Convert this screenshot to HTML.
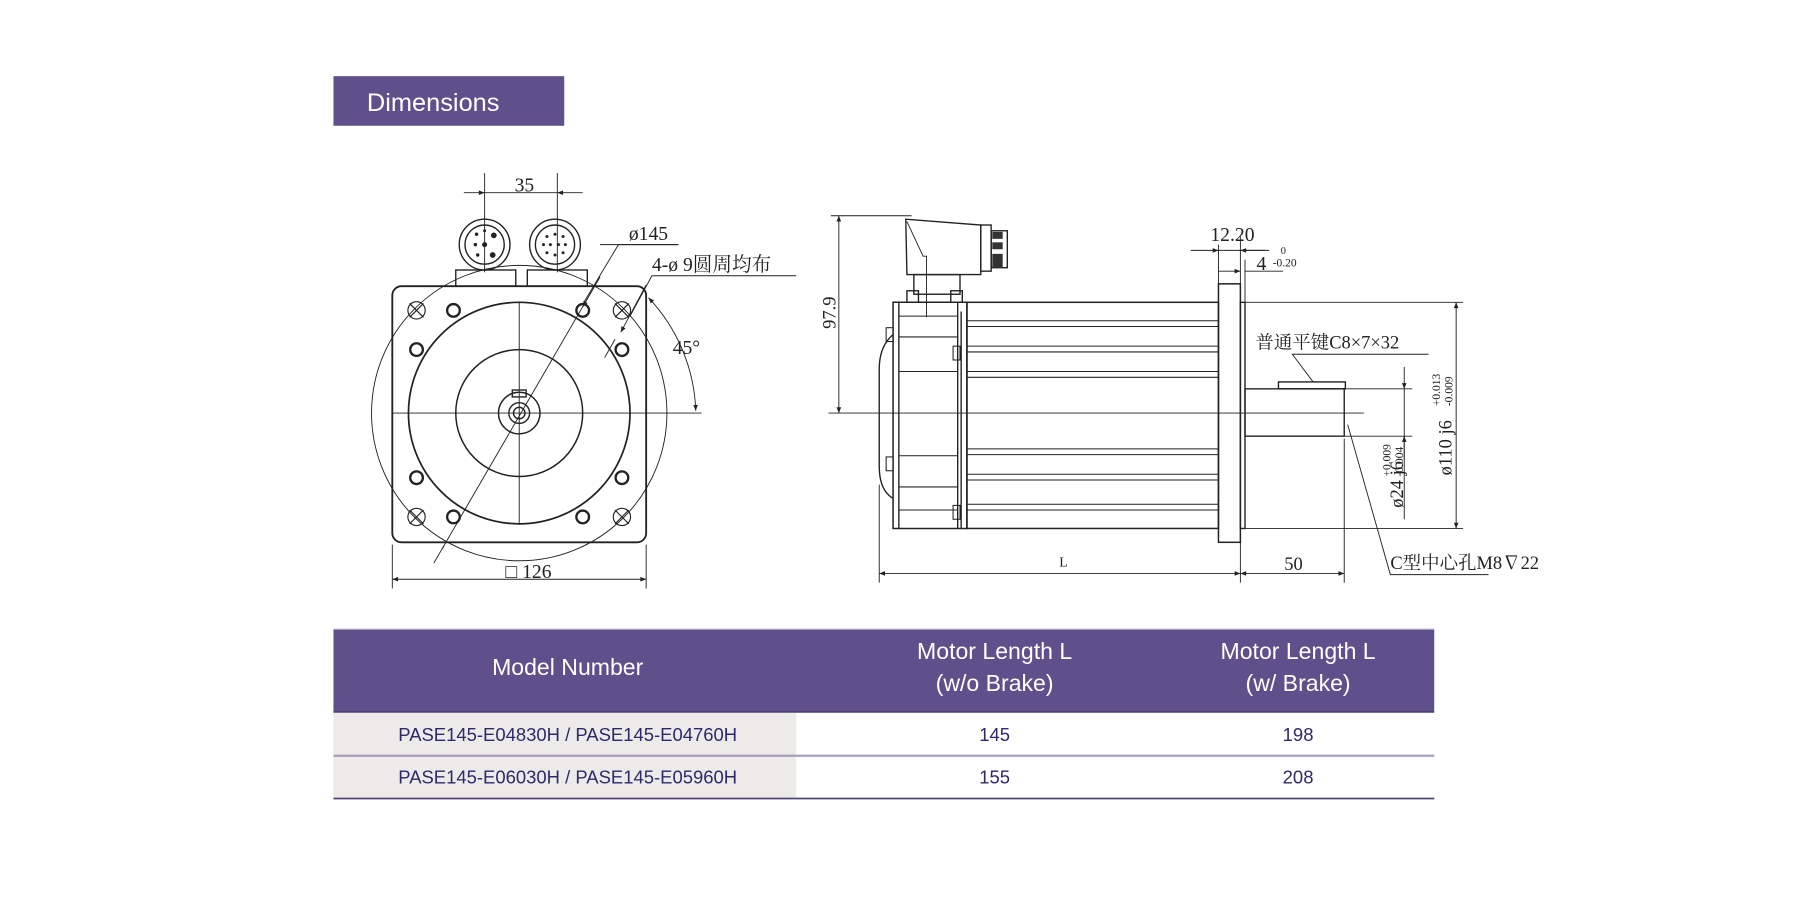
<!DOCTYPE html>
<html><head><meta charset="utf-8"><style>
html,body{margin:0;padding:0;background:#fff;}
svg{display:block;}
text{font-family:"Liberation Serif","Noto Serif CJK SC",serif;fill:#222;}
.s{font-family:"Liberation Sans",sans-serif;}
</style></head><body>
<svg width="1800" height="912" viewBox="0 0 1560 790.4" preserveAspectRatio="none" xmlns="http://www.w3.org/2000/svg">
<defs>
<marker id="a" viewBox="0 0 10 10" refX="10" refY="5" markerWidth="9" markerHeight="5" orient="auto-start-reverse" markerUnits="userSpaceOnUse"><path d="M0,1 L10,5 L0,9z" fill="#222"/></marker>
</defs>
<!-- header -->
<rect x="289" y="66" width="200" height="43" fill="#5f4f8a"/>
<text x="318" y="96" class="s" font-size="22" style="fill:#fff">Dimensions</text>

<g stroke="#222" fill="none" stroke-width="1.2">
<!-- FRONT VIEW -->
<rect x="340" y="248" width="220" height="222" rx="8" stroke-width="1.6"/>
<circle cx="450" cy="358" r="128" stroke-width="0.8"/>
<circle cx="450" cy="358" r="96" stroke-width="1.5"/>
<circle cx="450" cy="358" r="55" stroke-width="1.3"/>
<circle cx="450" cy="358" r="18" stroke-width="1.3"/>
<circle cx="450" cy="358" r="9"/>
<circle cx="450" cy="358" r="5"/>
<rect x="444" y="338" width="12" height="6"/>
<line x1="340" y1="358" x2="608" y2="358" stroke-width="0.8"/>
<line x1="450" y1="262" x2="450" y2="454" stroke-width="0.8"/>
<!-- X holes -->
<g stroke-width="1">
<circle cx="361" cy="269" r="7.5"/><path d="M355,263l12,12M367,263l-12,12"/>
<circle cx="539" cy="269" r="7.5"/><path d="M533,263l12,12M545,263l-12,12"/>
<circle cx="361" cy="448" r="7.5"/><path d="M355,442l12,12M367,442l-12,12"/>
<circle cx="539" cy="448" r="7.5"/><path d="M533,442l12,12M545,442l-12,12"/>
</g>
<g stroke-width="2">
<circle cx="393" cy="269" r="5.5"/><circle cx="505" cy="269" r="5.5"/>
<circle cx="361" cy="303" r="5.5"/><circle cx="539" cy="303" r="5.5"/>
<circle cx="361" cy="414" r="5.5"/><circle cx="539" cy="414" r="5.5"/>
<circle cx="393" cy="448" r="5.5"/><circle cx="505" cy="448" r="5.5"/>
</g>
<!-- connectors -->
<circle cx="420" cy="212" r="22"/><circle cx="420" cy="212" r="17"/>
<circle cx="481" cy="212" r="22"/><circle cx="481" cy="212" r="17"/>
<rect x="395" y="234" width="52" height="14"/>
<rect x="457" y="234" width="52" height="14"/>
<g fill="#222" stroke="none">
<circle cx="413" cy="203" r="1.5"/><circle cx="420" cy="212" r="2.2"/><circle cx="412" cy="212" r="1.5"/><circle cx="428" cy="204" r="2.5"/><circle cx="427" cy="221" r="2.5"/><circle cx="414" cy="221" r="1.5"/><circle cx="420" cy="200" r="1.3"/>
<circle cx="474" cy="205" r="1.3"/><circle cx="481" cy="203" r="1.3"/><circle cx="488" cy="205" r="1.3"/><circle cx="471" cy="212" r="1.3"/><circle cx="477" cy="212" r="1.3"/><circle cx="484" cy="212" r="1.3"/><circle cx="490" cy="212" r="1.3"/><circle cx="474" cy="219" r="1.3"/><circle cx="481" cy="221" r="1.3"/><circle cx="488" cy="219" r="1.3"/>
</g>
<!-- dim 35 -->
<line x1="420" y1="150" x2="420" y2="236" stroke-width="0.8"/>
<line x1="483" y1="150" x2="483" y2="236" stroke-width="0.8"/>
<line x1="402" y1="167" x2="420" y2="167" stroke-width="0.8" marker-end="url(#a)"/>
<line x1="505" y1="167" x2="483" y2="167" stroke-width="0.8" marker-end="url(#a)"/>
<line x1="420" y1="167" x2="483" y2="167" stroke-width="0.8"/>
<!-- diagonal ø145 -->
<line x1="376" y1="488" x2="520" y2="240" stroke-width="0.8"/>
<line x1="520" y1="240" x2="505" y2="266" stroke-width="0.8" marker-end="url(#a)"/>
<line x1="383" y1="476" x2="385" y2="473" stroke-width="0.8"/>
<line x1="520" y1="240" x2="588" y2="240" stroke-width="0.8" transform="translate(0,-28) "/>
<line x1="520" y1="212" x2="520" y2="240" stroke-width="0" />
<polyline points="588,212 536,212 506,262" stroke-width="0.8"/>
<!-- 4-ø9 leader -->
<polyline points="690,239 565,239 546,274" stroke-width="0.8"/>
<line x1="560" y1="247" x2="538" y2="288" stroke-width="0.8" marker-end="url(#a)"/>
<line x1="524" y1="310" x2="533" y2="294" stroke-width="0.8"/>
<!-- 45 arc -->
<path d="M562,258 A 150 150 0 0 1 603,356" stroke-width="0.8" marker-start="url(#a)" marker-end="url(#a)"/>
<!-- dim 126 -->
<line x1="340" y1="472" x2="340" y2="510" stroke-width="0.8"/>
<line x1="560" y1="472" x2="560" y2="510" stroke-width="0.8"/>
<line x1="340" y1="502" x2="560" y2="502" stroke-width="0.8" marker-start="url(#a)" marker-end="url(#a)"/>

<!-- SIDE VIEW -->
<!-- rear cap -->
<path d="M774,262 L838,262 L838,458 L774,458 Z" stroke-width="1.3"/>
<path d="M774,290 Q762,300 762,320 L762,404 Q762,425 774,432"/>
<line x1="779" y1="262" x2="779" y2="458"/>
<line x1="830" y1="262" x2="830" y2="458"/>
<line x1="833" y1="270" x2="833" y2="458"/>
<g stroke-width="0.9">
<line x1="779" y1="274" x2="830" y2="274"/><line x1="779" y1="292" x2="830" y2="292"/><line x1="779" y1="322" x2="830" y2="322"/>
<line x1="779" y1="395" x2="830" y2="395"/><line x1="779" y1="422" x2="830" y2="422"/><line x1="779" y1="442" x2="830" y2="442"/>
<rect x="768" y="284" width="6" height="12"/><rect x="768" y="396" width="6" height="12"/>
<rect x="826" y="300" width="6" height="12"/><rect x="826" y="438" width="6" height="12"/>
</g>
<!-- body fins -->
<rect x="838" y="262" width="218" height="196" stroke-width="1.3"/>
<g stroke-width="0.9">
<line x1="838" y1="278" x2="1056" y2="278"/><line x1="838" y1="283" x2="1056" y2="283"/>
<line x1="838" y1="300" x2="1056" y2="300"/><line x1="838" y1="305" x2="1056" y2="305"/>
<line x1="838" y1="322" x2="1056" y2="322"/><line x1="838" y1="327" x2="1056" y2="327"/>
<line x1="838" y1="389" x2="1056" y2="389"/><line x1="838" y1="394" x2="1056" y2="394"/>
<line x1="838" y1="411" x2="1056" y2="411"/><line x1="838" y1="416" x2="1056" y2="416"/>
<line x1="838" y1="437" x2="1056" y2="437"/><line x1="838" y1="442" x2="1056" y2="442"/>
</g>
<!-- connector on top -->
<path d="M785,190 L786,238 L850,238 L850,195 Z" stroke-width="1.2"/>
<path d="M786,192 L800,222 L803,222 L803,275" stroke-width="0.8"/>
<rect x="850" y="195" width="9" height="40"/>
<rect x="859" y="200" width="14" height="32"/>
<g fill="#333" stroke="none"><rect x="860" y="201" width="9" height="6"/><rect x="860" y="210" width="9" height="6"/><rect x="860" y="220" width="9" height="12"/></g>
<rect x="792" y="238" width="40" height="17"/>
<rect x="786" y="252" width="10" height="10"/><rect x="824" y="252" width="10" height="10"/>
<!-- flange -->
<rect x="1056" y="246" width="19" height="224" stroke-width="1.3"/>
<rect x="1075" y="262" width="4" height="196"/>
<!-- shaft -->
<rect x="1079" y="337" width="86" height="41"/>
<rect x="1108" y="331" width="58" height="6"/>
<!-- centerline -->
<line x1="718" y1="358" x2="1182" y2="358" stroke-width="0.8"/>
<!-- 97.9 -->
<line x1="720" y1="187" x2="790" y2="187" stroke-width="0.8"/>
<line x1="727" y1="187" x2="727" y2="358" stroke-width="0.8" marker-start="url(#a)" marker-end="url(#a)"/>
<!-- 12.20 / 4 -->
<line x1="1056" y1="212" x2="1056" y2="246" stroke-width="0.8"/>
<line x1="1075" y1="205" x2="1075" y2="246" stroke-width="0.8"/>
<line x1="1079" y1="225" x2="1079" y2="262" stroke-width="0.8"/>
<line x1="1032" y1="217" x2="1056" y2="217" stroke-width="0.8" marker-end="url(#a)"/>
<line x1="1056" y1="217" x2="1100" y2="217" stroke-width="0.8"/>
<line x1="1096" y1="217" x2="1075" y2="217" stroke-width="0.8" marker-end="url(#a)"/>
<line x1="1056" y1="235" x2="1075" y2="235" stroke-width="0.8" marker-end="url(#a)"/>
<line x1="1079" y1="235" x2="1112" y2="235" stroke-width="0.8"/>
<!-- ø110 -->
<line x1="1079" y1="262" x2="1268" y2="262" stroke-width="0.8"/>
<line x1="1079" y1="458" x2="1268" y2="458" stroke-width="0.8"/>
<line x1="1262" y1="262" x2="1262" y2="458" stroke-width="0.8" marker-start="url(#a)" marker-end="url(#a)"/>
<!-- ø24 -->
<line x1="1165" y1="337" x2="1224" y2="337" stroke-width="0.8"/>
<line x1="1165" y1="378" x2="1224" y2="378" stroke-width="0.8"/>
<line x1="1217" y1="318" x2="1217" y2="337" stroke-width="0.8" marker-end="url(#a)"/>
<line x1="1217" y1="398" x2="1217" y2="378" stroke-width="0.8" marker-end="url(#a)"/>
<line x1="1217" y1="337" x2="1217" y2="450" stroke-width="0.8"/>
<!-- key leader -->
<polyline points="1238,307 1120,307 1138,331" stroke-width="0.8"/>
<!-- L & 50 -->
<line x1="762" y1="420" x2="762" y2="505" stroke-width="0.8"/>
<line x1="1075" y1="470" x2="1075" y2="505" stroke-width="0.8"/>
<line x1="1165" y1="380" x2="1165" y2="505" stroke-width="0.8"/>
<line x1="762" y1="497" x2="1075" y2="497" stroke-width="0.8" marker-start="url(#a)" marker-end="url(#a)"/>
<line x1="1075" y1="497" x2="1165" y2="497" stroke-width="0.8" marker-start="url(#a)" marker-end="url(#a)"/>
<!-- C leader -->
<polyline points="1290,498 1205,498 1168,368" stroke-width="0.8"/>
</g>

<!-- drawing labels -->
<text x="446" y="166" font-size="17">35</text>
<text x="545" y="208" font-size="17">ø145</text>
<text x="565" y="235" font-size="17">4-ø 9圆周均布</text>
<text x="583" y="307" font-size="17">45°</text>
<text x="438" y="501" font-size="17">□ 126</text>
<text x="1049" y="209" font-size="17">12.20</text>
<text x="1089" y="234" font-size="17">4</text>
<text x="1110" y="220" font-size="9">0</text>
<text x="1103" y="231" font-size="10">-0.20</text>
<text x="1088" y="302" font-size="16">普通平键C8×7×32</text>
<text x="918" y="491" font-size="12">L</text>
<text x="1113" y="494" font-size="16">50</text>
<text x="1205" y="493" font-size="16">C型中心孔M8∇22</text>
<text transform="translate(724,285) rotate(-90)" font-size="16">97.9</text>
<text transform="translate(1258,412) rotate(-90)" font-size="16">ø110 j6</text>
<text transform="translate(1248,352) rotate(-90)" font-size="10">+0.013</text>
<text transform="translate(1259,352) rotate(-90)" font-size="10">-0.009</text>
<text transform="translate(1216,440) rotate(-90)" font-size="16">ø24 j6</text>
<text transform="translate(1205,413) rotate(-90)" font-size="10">+0.009</text>
<text transform="translate(1216,413) rotate(-90)" font-size="10">-0.004</text>

<!-- table -->
<rect x="289" y="545" width="954" height="72" fill="#5f4f8a"/>
<line x1="289" y1="545.5" x2="1243" y2="545.5" stroke="#a79fbd" stroke-width="1"/>
<rect x="289" y="618" width="401" height="74" fill="#ecebea"/>
<line x1="289" y1="617" x2="1243" y2="617" stroke="#4e4474" stroke-width="1.5"/>
<line x1="289" y1="655" x2="1243" y2="655" stroke="#a79fbd" stroke-width="2"/>
<line x1="289" y1="692" x2="1243" y2="692" stroke="#4e4474" stroke-width="1.5"/>
<g class="s" font-size="20" style="fill:#fff" text-anchor="middle">
<text x="492" y="585" style="fill:#fff" class="s">Model Number</text>
<text x="862" y="571" style="fill:#fff" class="s">Motor Length L</text>
<text x="862" y="599" style="fill:#fff" class="s">(w/o Brake)</text>
<text x="1125" y="571" style="fill:#fff" class="s">Motor Length L</text>
<text x="1125" y="599" style="fill:#fff" class="s">(w/ Brake)</text>
</g>
<g font-size="16" text-anchor="middle">
<text x="492" y="642" class="s" style="fill:#2d2a6a">PASE145-E04830H / PASE145-E04760H</text>
<text x="862" y="642" class="s" style="fill:#2d2a6a">145</text>
<text x="1125" y="642" class="s" style="fill:#2d2a6a">198</text>
<text x="492" y="679" class="s" style="fill:#2d2a6a">PASE145-E06030H / PASE145-E05960H</text>
<text x="862" y="679" class="s" style="fill:#2d2a6a">155</text>
<text x="1125" y="679" class="s" style="fill:#2d2a6a">208</text>
</g>
</svg>
</body></html>
